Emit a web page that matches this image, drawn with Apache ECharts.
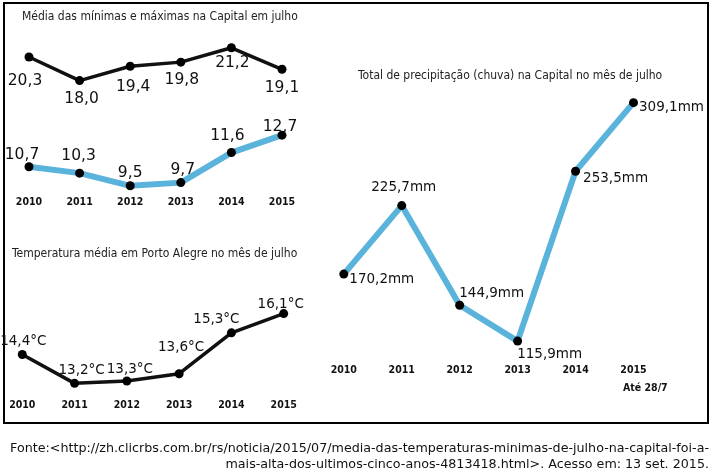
<!DOCTYPE html>
<html>
<head>
<meta charset="utf-8">
<script src="https://cdn.jsdelivr.net/npm/echarts@6/dist/echarts.min.js"></script>
<style>
  html, body { margin: 0; padding: 0; background: #fff; }
  #chart { width: 716px; height: 473px; }
</style>
</head>
<body>
<div id="chart"></div>
<script>
// data
const years = ['2010', '2011', '2012', '2013', '2014', '2015'];
const maxCapital = [20.3, 18.0, 19.4, 19.8, 21.2, 19.1]; // média das máximas
const minCapital = [10.7, 10.3, 9.5, 9.7, 11.6, 12.7];   // média das mínimas
const mediaPoa = [14.4, 13.2, 13.3, 13.6, 15.3, 16.1];   // °C
const chuva = [170.2, 225.7, 144.9, 115.9, 253.5, 309.1]; // mm

// where each value label sits relative to its point
const maxOffsets = [[-4, 24], [2, 18], [3, 21], [1, 18], [1, 15], [0, 19]];
const minOffsets = [[-7, -12], [-1, -17], [0, -13], [2, -13], [-4, -17], [-2, -8]];
const poaOffsets = [[1, -13], [7, -13], [3, -11], [2, -26], [-15, -13], [-3, -9]];
const chuvaOffsets = [[38, 5], [2, -18], [32, -12], [32, 13], [40, 7], [38, 5]];

const NARROW = '"DejaVu Sans Condensed", "DejaVu Sans", sans-serif';
const WIDE = '"DejaVu Sans", sans-serif';
const BLUE = '#5ab3da';

const fmt = v => v.toFixed(1).replace('.', ',');

function withOffsets(values, offsets) {
  return values.map((v, i) => ({ value: v, label: { offset: offsets[i] } }));
}

function xAxis(gridIndex, showLabels, margin) {
  return {
    type: 'category',
    gridIndex: gridIndex,
    data: years,
    boundaryGap: false,
    axisLine: { show: false },
    axisTick: { show: false },
    splitLine: { show: false },
    axisLabel: {
      show: showLabels,
      margin: margin,
      color: '#111',
      fontFamily: NARROW,
      fontWeight: 'bold',
      fontSize: 10.5
    }
  };
}

function yAxis(gridIndex, min, max) {
  return { type: 'value', gridIndex: gridIndex, min: min, max: max, show: false, splitLine: { show: false } };
}

function lineSeries(idx, values, offsets, color, width, suffix, fontSize) {
  return {
    type: 'line',
    xAxisIndex: idx,
    yAxisIndex: idx,
    data: withOffsets(values, offsets),
    symbol: 'circle',
    symbolSize: 9,
    itemStyle: { color: '#000' },
    lineStyle: { color: color, width: width },
    z: 2,
    label: {
      show: true,
      position: 'inside',
      color: '#111',
      fontFamily: WIDE,
      fontSize: fontSize,
      formatter: p => fmt(p.value) + suffix
    },
    animation: false
  };
}

const chart = echarts.init(document.getElementById('chart'), null, { renderer: 'canvas' });

const titleStyle = { color: '#222', fontFamily: NARROW, fontSize: 12, fontWeight: 'normal' };

const option = {
  backgroundColor: '#fff',
  animation: false,
  title: [
    { text: 'Média das mínimas e máximas na Capital em julho', left: 22, top: 11, padding: 0, textStyle: titleStyle },
    { text: 'Temperatura média em Porto Alegre no mês de julho', left: 12, top: 248, padding: 0, textStyle: titleStyle },
    { text: 'Total de precipitação (chuva) na Capital no mês de julho', left: 358, top: 70, padding: 0, textStyle: titleStyle }
  ],
  grid: [
    { left: 29, top: 39.6, width: 253, height: 51.2 },
    { left: 29, top: 130.4, width: 253, height: 63.3 },
    { left: 22.3, top: 291.9, width: 261.4, height: 103.5 },
    { left: 343.8, top: 52.2, width: 289.7, height: 308.5 }
  ],
  xAxis: [
    xAxis(0, false, 0),
    xAxis(1, true, 3),
    xAxis(2, true, 4),
    xAxis(3, true, 4)
  ],
  yAxis: [
    yAxis(0, 17, 22),
    yAxis(1, 9, 13),
    yAxis(2, 12.7, 17),
    yAxis(3, 100, 350)
  ],
  series: [
    lineSeries(0, maxCapital, maxOffsets, '#111', 3.5, '', 15.5),
    lineSeries(1, minCapital, minOffsets, BLUE, 6, '', 15.5),
    lineSeries(2, mediaPoa, poaOffsets, '#111', 3.5, '°C', 13.5),
    lineSeries(3, chuva, chuvaOffsets, BLUE, 6, 'mm', 13.5)
  ],
  graphic: [
    {
      type: 'rect',
      shape: { x: 4, y: 3, width: 704, height: 420 },
      style: { fill: null, stroke: '#000', lineWidth: 2 },
      silent: true
    },
    {
      type: 'text',
      x: 623, y: 388,
      style: { text: 'Até 28/7', fill: '#111', font: 'bold 10.5px ' + NARROW, textVerticalAlign: 'middle' }
    },
    {
      type: 'text',
      x: 709, y: 449,
      style: {
        text: 'Fonte:<http://zh.clicrbs.com.br/rs/noticia/2015/07/media-das-temperaturas-minimas-de-julho-na-capital-foi-a-',
        fill: '#111', font: '12.7px ' + WIDE, textAlign: 'right', textVerticalAlign: 'middle'
      }
    },
    {
      type: 'text',
      x: 709, y: 465,
      style: {
        text: 'mais-alta-dos-ultimos-cinco-anos-4813418.html>. Acesso em: 13 set. 2015.',
        fill: '#111', font: '12.7px ' + WIDE, textAlign: 'right', textVerticalAlign: 'middle'
      }
    }
  ]
};

chart.setOption(option);
</script>
</body>
</html>
